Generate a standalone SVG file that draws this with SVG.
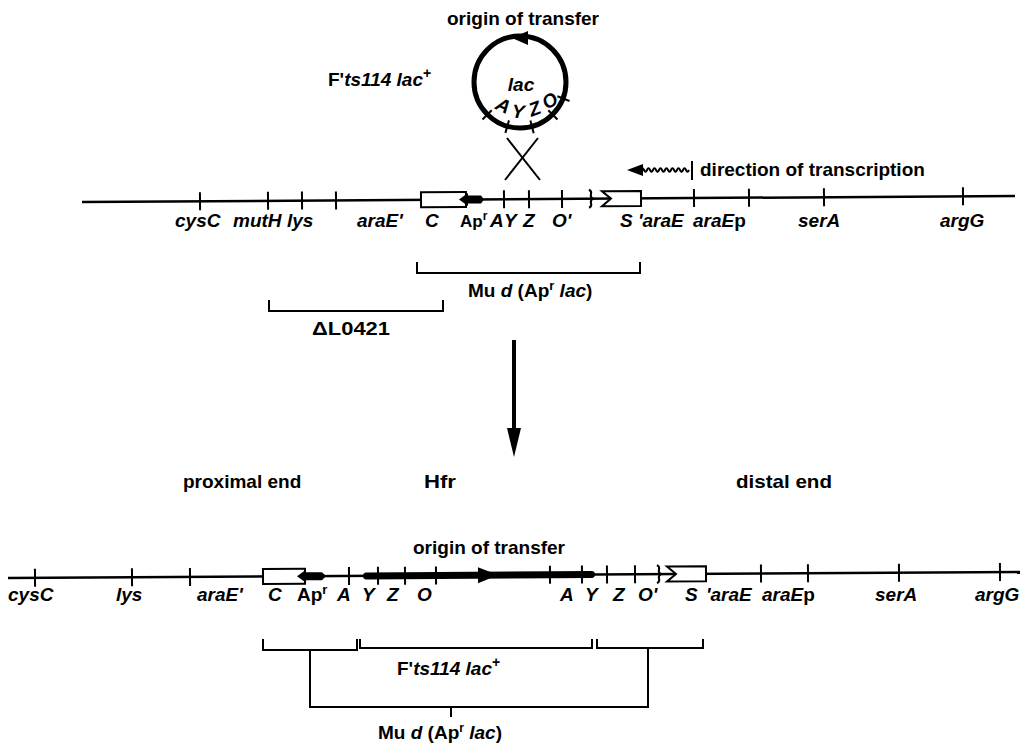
<svg xmlns="http://www.w3.org/2000/svg" width="1027" height="744" viewBox="0 0 1027 744">
<style>
.t{font-family:"Liberation Sans",Arial,sans-serif;font-weight:bold;font-size:19px;fill:#000}
.i{font-style:italic}
.ln{stroke:#000;stroke-width:2.5;fill:none}
.tk{stroke:#000;stroke-width:2}
.br{stroke:#000;stroke-width:2;fill:none}
.box{fill:#fff;stroke:#000;stroke-width:2}
.blk{fill:#000}
</style>
<rect width="1027" height="744" fill="#fff"/>

<g id="plasmid">
  <text class="t" x="447" y="25">origin of transfer</text>
  <text class="t" x="328" y="86">F'<tspan class="i">ts114 lac</tspan><tspan dy="-8" font-size="14">+</tspan></text>
  <circle cx="520" cy="82" r="46" fill="none" stroke="#000" stroke-width="5"/>
  <polygon class="blk" points="512,38 528,31 528,45"/>
  <g class="tk">
    <line x1="557.4" y1="96.3" x2="569.5" y2="101"/>
    <line x1="548.3" y1="110.3" x2="557.5" y2="119.5"/>
    <line x1="530.4" y1="120.6" x2="533.7" y2="133.2"/>
    <line x1="509" y1="120.4" x2="505.4" y2="132.9"/>
    <line x1="491.7" y1="110.3" x2="482.5" y2="119.5"/>
  </g>
  <text class="t i" x="521" y="91" text-anchor="middle" font-size="17">lac</text>
  <text class="t i" x="503" y="112" text-anchor="middle" font-size="17" transform="rotate(25 503 106)">A</text>
  <text class="t i" x="518" y="118" text-anchor="middle" font-size="17" transform="rotate(5 518 112)">Y</text>
  <text class="t i" x="535" y="115" text-anchor="middle" font-size="17" transform="rotate(-20 535 109)">Z</text>
  <text class="t i" x="550" y="107" text-anchor="middle" font-size="17" transform="rotate(-35 550 101)">O</text>
</g>

<g id="connectors">
  <line class="tk" x1="507" y1="138" x2="540" y2="180"/>
  <line class="tk" x1="538" y1="138" x2="505" y2="180"/>
  <line x1="514" y1="340" x2="514" y2="432" stroke="#000" stroke-width="4"/>
  <polygon class="blk" points="507,428 521,428 514,457"/>
</g>

<g id="chromosome-top">
  <g transform="rotate(-0.37 550 199)">
    <line class="ln" x1="82" y1="199" x2="1015" y2="199"/>
    <g class="tk">
      <line x1="200" y1="190" x2="200" y2="208"/>
      <line x1="268" y1="190" x2="268" y2="208"/>
      <line x1="302" y1="190" x2="302" y2="208"/>
      <line x1="336" y1="190" x2="336" y2="208"/>
      <line x1="504" y1="190" x2="504" y2="208"/>
      <line x1="529" y1="190" x2="529" y2="208"/>
      <line x1="562" y1="190" x2="562" y2="208"/>
      <line x1="694" y1="190" x2="694" y2="208"/>
      <line x1="749" y1="190" x2="749" y2="208"/>
      <line x1="824" y1="190" x2="824" y2="208"/>
      <line x1="963" y1="190" x2="963" y2="208"/>
    </g>
    <rect class="box" x="421" y="191.5" width="45" height="15"/>
    <polygon class="blk" points="459,199 468,192.5 468,195 481,195 484,199 481,203 468,203 468,205.5"/>
    <path class="br" d="M589,190 C595,193 587,196 593,199 C587,202 595,205 589,208"/>
    <path class="box" d="M602,191.5 H641 V206.5 H602 L611,199 Z"/>
  </g>
  <path class="br" d="M641,170 q1.5,-3.5 3,0 t3,0 t3,0 t3,0 t3,0 t3,0 t3,0 t3,0 t3,0 t3,0 t3,0 t3,0 t3,0 t3,0 t3,0 t3,0"/>
  <polygon class="blk" points="627,170 643,164 643,176"/>
  <line class="tk" x1="692" y1="161" x2="692" y2="180"/>
  <text class="t" x="700" y="176">direction of transcription</text>
  <g class="t i">
    <text x="175" y="227">cysC</text>
    <text x="233" y="227">mutH</text>
    <text x="287" y="227">lys</text>
    <text x="357" y="227">araE'</text>
    <text x="425" y="227">C</text>
    <text x="460" y="227" font-style="normal" font-size="17">Ap<tspan dy="-7" font-size="12">r</tspan></text>
    <text x="490" y="227">A</text>
    <text x="504" y="227">Y</text>
    <text x="523" y="227">Z</text>
    <text x="552" y="227">O'</text>
    <text x="620" y="227">S</text>
    <text x="638" y="227">'araE</text>
    <text x="693" y="227">araE<tspan font-style="normal">p</tspan></text>
    <text x="798" y="227">serA</text>
    <text x="940" y="227">argG</text>
  </g>
</g>

<g id="brackets-top">
  <path class="br" d="M417,262 V273 H640 V262"/>
  <text class="t" x="468" y="297">Mu <tspan class="i">d</tspan> (Ap<tspan dy="-7" font-size="13">r</tspan><tspan dy="7" class="i"> lac</tspan>)</text>
  <path class="br" d="M269,300 V311 H443 V300"/>
  <text class="t" x="312" y="335" textLength="78" lengthAdjust="spacingAndGlyphs">ΔL0421</text>
</g>

<g id="labels-middle">
  <text class="t" x="183" y="488">proximal end</text>
  <text class="t" x="424" y="488" textLength="32" lengthAdjust="spacingAndGlyphs">Hfr</text>
  <text class="t" x="736" y="488" textLength="96" lengthAdjust="spacingAndGlyphs">distal end</text>
</g>

<g id="chromosome-hfr">
  <text class="t" x="413" y="554">origin of transfer</text>
  <g transform="rotate(-0.34 514 575)">
    <line class="ln" x1="8" y1="575" x2="1020" y2="575"/>
    <rect class="box" x="263" y="567.5" width="42" height="15"/>
    <polygon class="blk" points="297,575 306,568.5 306,571 322,571 326,575 322,579 306,579 306,581.5"/>
    <rect class="blk" x="363" y="571.5" width="232" height="7" rx="3.5"/>
    <polygon class="blk" points="478,567 498,575 478,583"/>
    <g class="tk">
      <line x1="35" y1="566" x2="35" y2="584"/>
      <line x1="132" y1="566" x2="132" y2="584"/>
      <line x1="190" y1="566" x2="190" y2="584"/>
      <line x1="349" y1="566" x2="349" y2="584"/>
      <line x1="378" y1="566" x2="378" y2="584"/>
      <line x1="405" y1="566" x2="405" y2="584"/>
      <line x1="436" y1="566" x2="436" y2="584"/>
      <line x1="550" y1="566" x2="550" y2="584"/>
      <line x1="582" y1="566" x2="582" y2="584"/>
      <line x1="607" y1="566" x2="607" y2="584"/>
      <line x1="635" y1="566" x2="635" y2="584"/>
      <line x1="761" y1="566" x2="761" y2="584"/>
      <line x1="808" y1="566" x2="808" y2="584"/>
      <line x1="899" y1="566" x2="899" y2="584"/>
      <line x1="1000" y1="566" x2="1000" y2="584"/>
    </g>
    <path class="br" d="M657,566 C663,569 655,572 661,575 C655,578 663,581 657,584"/>
    <path class="box" d="M667,567.5 H706 V582.5 H667 L676,575 Z"/>
  </g>
  <g class="t i">
    <text x="8" y="601">cysC</text>
    <text x="116" y="601">lys</text>
    <text x="197" y="601">araE'</text>
    <text x="268" y="601">C</text>
    <text x="297" y="601" font-style="normal">Ap<tspan dy="-7" font-size="13">r</tspan></text>
    <text x="337" y="601">A</text>
    <text x="362" y="601">Y</text>
    <text x="387" y="601">Z</text>
    <text x="417" y="601">O</text>
    <text x="560" y="601">A</text>
    <text x="585" y="601">Y</text>
    <text x="613" y="601">Z</text>
    <text x="638" y="601">O'</text>
    <text x="685" y="601">S</text>
    <text x="706" y="601">'araE</text>
    <text x="762" y="601">araE<tspan font-style="normal">p</tspan></text>
    <text x="875" y="601">serA</text>
    <text x="975" y="601">argG</text>
  </g>
</g>

<g id="brackets-bottom">
  <path class="br" d="M263,639 V650 H357 V639"/>
  <path class="br" d="M360,639 V648 H592 V639"/>
  <path class="br" d="M597,639 V648 H703 V639"/>
  <path class="br" d="M310,650 V707 H648 V648"/>
  <path class="br" d="M451,707 V717"/>
  <text class="t" x="397" y="675">F'<tspan class="i">ts114 lac</tspan><tspan dy="-8" font-size="14">+</tspan></text>
  <text class="t" x="378" y="739" font-size="18">Mu <tspan class="i">d</tspan> (Ap<tspan dy="-7" font-size="12">r</tspan><tspan dy="7" class="i"> lac</tspan>)</text>
</g>
</svg>
